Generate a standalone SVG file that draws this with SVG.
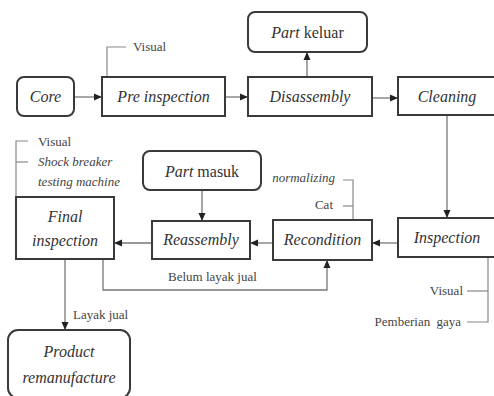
<svg xmlns="http://www.w3.org/2000/svg" width="494" height="396" viewBox="0 0 494 396">
<style>
.box{fill:#fff;stroke:#3a3a3a;stroke-width:2}
.lbl{font-family:'Liberation Serif',serif;font-style:italic;font-size:16px;fill:#333;text-anchor:middle}
.up{font-style:normal}
.sm{font-family:'Liberation Serif',serif;font-size:13px;fill:#444}
.it{font-style:italic}
.ln{fill:none;stroke:#777;stroke-width:1.3}
.cl{fill:none;stroke:#888;stroke-width:1.2}
</style>
<defs>
<marker id="ah" viewBox="0 0 8 8" refX="8" refY="4" markerWidth="8" markerHeight="8" markerUnits="userSpaceOnUse" orient="auto">
<path d="M0,0.5 L8,4 L0,7.5 Z" fill="#222"/>
</marker>
</defs>
<rect width="494" height="396" fill="#fff"/>
<g id="connectors">
<line class="ln" x1="74" y1="97" x2="102" y2="97" marker-end="url(#ah)"/>
<line class="ln" x1="225" y1="97" x2="248" y2="97" marker-end="url(#ah)"/>
<line class="ln" x1="307" y1="77" x2="307" y2="52" marker-end="url(#ah)"/>
<line class="ln" x1="372" y1="98" x2="398" y2="98" marker-end="url(#ah)"/>
<line class="ln" x1="447" y1="116" x2="447" y2="218" marker-end="url(#ah)"/>
<line class="ln" x1="398" y1="243" x2="372" y2="243" marker-end="url(#ah)"/>
<line class="ln" x1="273" y1="243" x2="250" y2="243" marker-end="url(#ah)"/>
<line class="ln" x1="152" y1="243" x2="114" y2="243" marker-end="url(#ah)"/>
<line class="ln" x1="202" y1="190" x2="202" y2="221" marker-end="url(#ah)"/>
<polyline class="ln" points="103,259 103,290 327,290 327,260" marker-end="url(#ah)"/>
<line class="ln" x1="65" y1="259" x2="65" y2="330" marker-end="url(#ah)"/>
<polyline class="cl" points="107,77 107,47 126,47"/>
<polyline class="cl" points="343,180 353,180 353,220"/>
<line class="cl" x1="343" y1="206" x2="353" y2="206"/>
<polyline class="cl" points="28,141 16,141 16,197"/>
<line class="cl" x1="16" y1="162" x2="28" y2="162"/>
<polyline class="cl" points="488,257 488,322 467,322"/>
<line class="cl" x1="467" y1="291" x2="488" y2="291"/>
</g>
<g id="core"><rect class="box" x="17" y="77" width="57" height="39" rx="7"/><text class="lbl" x="45.5" y="102">Core</text></g>
<g id="pre-inspection"><rect class="box" x="102" y="77" width="123" height="39"/><text class="lbl" x="163.5" y="102">Pre inspection</text>
<text class="sm" x="133" y="51">Visual</text></g>
<g id="disassembly"><rect class="box" x="248" y="77" width="124" height="39"/><text class="lbl" x="310" y="102">Disassembly</text></g>
<g id="part-keluar"><rect class="box" x="248" y="12" width="119" height="40" rx="7"/><text class="lbl" x="307.5" y="38">Part <tspan class="up">keluar</tspan></text></g>
<g id="cleaning"><rect class="box" x="398" y="77" width="99" height="38"/><text class="lbl" x="447" y="102">Cleaning</text></g>
<g id="inspection"><rect class="box" x="398" y="218" width="99" height="39"/><text class="lbl" x="447" y="243">Inspection</text>
<text class="sm" x="463" y="295" text-anchor="end">Visual</text>
<text class="sm" x="461" y="326" text-anchor="end" word-spacing="3">Pemberian gaya</text></g>
<g id="recondition"><rect class="box" x="273" y="220" width="99" height="40"/><text class="lbl" x="322.5" y="245">Recondition</text>
<text class="sm it" x="335" y="182" text-anchor="end">normalizing</text>
<text class="sm" x="333" y="209" text-anchor="end">Cat</text></g>
<g id="reassembly"><rect class="box" x="152" y="221" width="98" height="38"/><text class="lbl" x="201" y="245">Reassembly</text></g>
<g id="part-masuk"><rect class="box" x="143" y="151" width="118" height="39" rx="7"/><text class="lbl" x="202" y="177">Part <tspan class="up">masuk</tspan></text></g>
<g id="final-inspection"><rect class="box" x="16" y="197" width="98" height="62"/>
<text class="lbl" x="65" y="222">Final</text><text class="lbl" x="65" y="246">inspection</text>
<text class="sm" x="38" y="146">Visual</text>
<text class="sm it" x="38" y="166">Shock breaker</text>
<text class="sm it" x="38" y="186">testing machine</text></g>
<g id="product-remanufacture"><rect class="box" x="8" y="330" width="122" height="68" rx="10"/>
<text class="lbl" x="69" y="357">Product</text><text class="lbl" x="69" y="383">remanufacture</text></g>
<text class="sm" x="168" y="281">Belum layak jual</text>
<text class="sm" x="73" y="319">Layak jual</text>
</svg>
